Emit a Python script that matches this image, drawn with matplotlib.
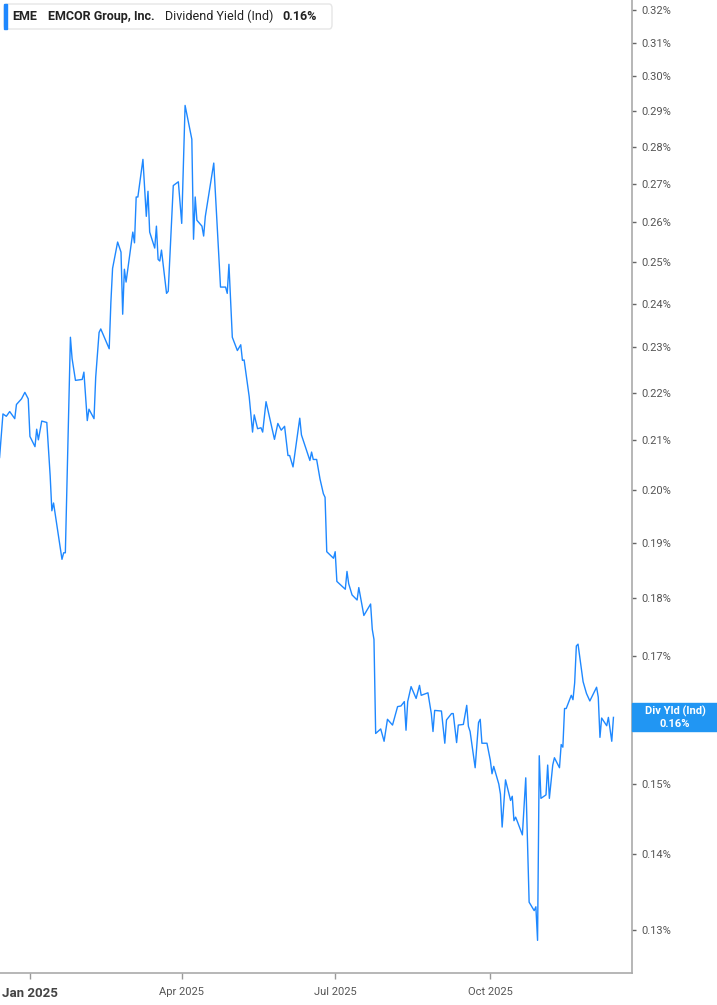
import pandas as pd
import matplotlib
matplotlib.use("Agg")
from matplotlib import pyplot as plt
from matplotlib.patches import FancyBboxPatch, Rectangle
import matplotlib.dates as mdates

plt.rcParams['font.family'] = ['Roboto', 'DejaVu Sans']

W, H = 717, 1005
LINE = '#1e88ff'
GREY = '#666666'

dates = [
    '2024-12-14', '2024-12-16', '2024-12-18', '2024-12-20', '2024-12-23', '2024-12-24',
    '2024-12-27', '2024-12-29', '2024-12-31', '2025-01-01', '2025-01-04', '2025-01-05',
    '2025-01-06', '2025-01-08', '2025-01-11', '2025-01-13', '2025-01-14', '2025-01-15',
    '2025-01-20', '2025-01-21', '2025-01-22', '2025-01-25', '2025-01-26', '2025-01-28',
    '2025-02-01', '2025-02-02', '2025-02-04', '2025-02-05', '2025-02-08', '2025-02-09',
    '2025-02-11', '2025-02-12', '2025-02-17', '2025-02-18', '2025-02-19', '2025-02-22',
    '2025-02-24', '2025-02-25', '2025-02-26', '2025-02-27', '2025-03-03', '2025-03-04',
    '2025-03-05', '2025-03-06', '2025-03-09', '2025-03-11', '2025-03-12', '2025-03-13',
    '2025-03-16', '2025-03-17', '2025-03-18', '2025-03-19', '2025-03-20', '2025-03-23',
    '2025-03-24', '2025-03-27', '2025-03-30', '2025-04-01', '2025-04-03', '2025-04-07',
    '2025-04-08', '2025-04-09', '2025-04-10', '2025-04-13', '2025-04-14', '2025-04-15',
    '2025-04-20', '2025-04-24', '2025-04-27', '2025-04-28', '2025-04-29', '2025-05-01',
    '2025-05-04', '2025-05-06', '2025-05-07', '2025-05-08', '2025-05-11', '2025-05-13',
    '2025-05-14', '2025-05-16', '2025-05-18', '2025-05-19', '2025-05-21', '2025-05-26',
    '2025-05-28', '2025-05-30', '2025-06-01', '2025-06-03', '2025-06-04', '2025-06-06',
    '2025-06-10', '2025-06-11', '2025-06-16', '2025-06-17', '2025-06-18', '2025-06-20',
    '2025-06-22', '2025-06-24', '2025-06-25', '2025-06-26', '2025-06-30', '2025-07-01',
    '2025-07-02', '2025-07-07', '2025-07-08', '2025-07-09', '2025-07-11', '2025-07-14',
    '2025-07-15', '2025-07-18', '2025-07-22', '2025-07-23', '2025-07-24', '2025-07-25',
    '2025-07-28', '2025-07-30', '2025-08-01', '2025-08-04', '2025-08-07', '2025-08-09',
    '2025-08-11', '2025-08-12', '2025-08-13', '2025-08-15', '2025-08-18', '2025-08-20',
    '2025-08-21', '2025-08-25', '2025-08-27', '2025-08-28', '2025-08-29', '2025-09-02',
    '2025-09-04', '2025-09-05', '2025-09-08', '2025-09-09', '2025-09-11', '2025-09-12',
    '2025-09-15', '2025-09-17', '2025-09-18', '2025-09-19', '2025-09-22', '2025-09-24',
    '2025-09-25', '2025-09-26', '2025-09-29', '2025-10-01', '2025-10-02', '2025-10-03',
    '2025-10-06', '2025-10-07', '2025-10-08', '2025-10-10', '2025-10-13', '2025-10-14',
    '2025-10-15', '2025-10-16', '2025-10-17', '2025-10-20', '2025-10-22', '2025-10-24',
    '2025-10-27', '2025-10-28', '2025-10-29', '2025-10-30', '2025-10-31', '2025-11-03',
    '2025-11-04', '2025-11-05', '2025-11-07', '2025-11-08', '2025-11-11', '2025-11-12',
    '2025-11-13', '2025-11-14', '2025-11-15', '2025-11-18', '2025-11-19', '2025-11-20',
    '2025-11-21', '2025-11-22', '2025-11-25', '2025-11-27', '2025-11-29', '2025-12-03',
    '2025-12-04', '2025-12-05', '2025-12-06', '2025-12-09', '2025-12-10', '2025-12-12',
    '2025-12-13',
]
div_yield = [
    0.2065, 0.2155, 0.2150, 0.2160, 0.2145, 0.2175,
    0.2187, 0.2201, 0.2187, 0.2108, 0.2087, 0.2123,
    0.2101, 0.2140, 0.2137, 0.2028, 0.1960, 0.1975,
    0.1869, 0.1881, 0.1881, 0.2323, 0.2275, 0.2227,
    0.2229, 0.2245, 0.2141, 0.2165, 0.2145, 0.2234,
    0.2334, 0.2342, 0.2297, 0.2404, 0.2485, 0.2550,
    0.2525, 0.2376, 0.2483, 0.2452, 0.2575, 0.2548,
    0.2665, 0.2665, 0.2765, 0.2615, 0.2680, 0.2575,
    0.2535, 0.2590, 0.2507, 0.2503, 0.2530, 0.2425,
    0.2430, 0.2695, 0.2705, 0.2597, 0.2915, 0.2820,
    0.2557, 0.2665, 0.2605, 0.2590, 0.2565, 0.2615,
    0.2755, 0.2440, 0.2440, 0.2425, 0.2495, 0.2323,
    0.2293, 0.2306, 0.2271, 0.2272, 0.2192, 0.2117,
    0.2153, 0.2124, 0.2126, 0.2117, 0.2181, 0.2102,
    0.2135, 0.2121, 0.2129, 0.2069, 0.2069, 0.2046,
    0.2146, 0.2111, 0.2059, 0.2076, 0.2061, 0.2061,
    0.2022, 0.1993, 0.1986, 0.1883, 0.1871, 0.1883,
    0.1829, 0.1815, 0.1847, 0.1825, 0.1805, 0.1796,
    0.1818, 0.1769, 0.1789, 0.1745, 0.1728, 0.1576,
    0.1583, 0.1564, 0.1598, 0.1589, 0.1618, 0.1619,
    0.1626, 0.1581, 0.1626, 0.1650, 0.1631, 0.1652,
    0.1636, 0.1640, 0.1607, 0.1579, 0.1612, 0.1611,
    0.1561, 0.1597, 0.1607, 0.1607, 0.1562, 0.1589,
    0.1590, 0.1620, 0.1587, 0.1579, 0.1524, 0.1593,
    0.1598, 0.1561, 0.1561, 0.1535, 0.1515, 0.1526,
    0.1500, 0.1485, 0.1438, 0.1506, 0.1476, 0.1482,
    0.1447, 0.1452, 0.1446, 0.1427, 0.1509, 0.1336,
    0.1325, 0.1330, 0.1287, 0.1542, 0.1479, 0.1484,
    0.1528, 0.1479, 0.1528, 0.1539, 0.1524, 0.1559,
    0.1555, 0.1615, 0.1615, 0.1636, 0.1629, 0.1656,
    0.1717, 0.1720, 0.1658, 0.1639, 0.1627, 0.1649,
    0.1633, 0.1570, 0.1600, 0.1588, 0.1601, 0.1564,
    0.1601,
]

y_ticks = [0.13, 0.14, 0.15, 0.16, 0.17, 0.18, 0.19, 0.20, 0.21, 0.22,
           0.23, 0.24, 0.25, 0.26, 0.27, 0.28, 0.29, 0.30, 0.31, 0.32]
x_ticks = ['2025-01-01', '2025-04-01', '2025-07-01', '2025-10-01']
x_labels = ['Jan 2025', 'Apr 2025', 'Jul 2025', 'Oct 2025']

ticker = 'EME'
company = 'EMCOR Group, Inc.'
metric = 'Dividend Yield (Ind)'
badge_name = 'Div Yld (Ind)'
last_label = '0.16%'

x = pd.to_datetime(dates)

fig = plt.figure(figsize=(W / 100, H / 100), dpi=100)
ax = fig.add_axes([0, 32 / H, 632 / W, 1 - 32 / H])
ax.plot(x, div_yield, color=LINE, lw=1.0)

ax.set_yscale('log')
ax.set_ylim(0.12465, 0.3232)
ax.set_xlim(pd.Timestamp('2024-12-14 06:00'), pd.Timestamp('2025-12-24'))

# the 0.16% tick label sits under the last-value badge, so leave it blank
ax.yaxis.tick_right()
ax.set_yticks(y_ticks)
ax.set_yticklabels(['' if abs(v - 0.16) < 1e-9 else f'{v:.2f}%' for v in y_ticks])
ax.yaxis.set_minor_locator(matplotlib.ticker.NullLocator())
ax.tick_params(axis='y', length=3, width=1, color=GREY, labelcolor='#555555',
               labelsize=8, pad=4)

ax.set_xticks(pd.to_datetime(x_ticks))
ax.set_xticklabels(x_labels)
ax.tick_params(axis='x', length=4, width=1, color='#999999', labelcolor='#555555',
               labelsize=8, pad=6)
for lbl in ax.get_xticklabels():
    if lbl.get_text().startswith('Jan'):
        lbl.set_fontweight('bold')
        lbl.set_fontsize(9.5)
        lbl.set_color('#444444')

for s in ['top', 'left']:
    ax.spines[s].set_visible(False)
for s in ['bottom', 'right']:
    ax.spines[s].set_color('#aaaaaa')
    ax.spines[s].set_linewidth(1.2)

# header box
fig.patches.append(FancyBboxPatch((4 / W, 1 - 29 / H), 328 / W, 25 / H,
                                  boxstyle='round,pad=0,rounding_size=0.004',
                                  transform=fig.transFigure, facecolor='white',
                                  edgecolor='#e6e6e6', lw=1))
fig.patches.append(Rectangle((4 / W, 1 - 29 / H), 3 / W, 25 / H,
                             transform=fig.transFigure, color=LINE))
hy = 1 - 16.5 / H
fig.text(12 / W, hy, ticker, fontsize=9, fontweight='bold', color='#222222', va='center')
fig.text(48 / W, hy, company, fontsize=9, fontweight='bold', color='#222222', va='center')
fig.text(165 / W, hy, metric, fontsize=9, color='#222222', va='center')
fig.text(282 / W, hy, last_label, fontsize=9, fontweight='bold', color='#222222', va='center')

# last value badge
_, py = ax.transData.transform((mdates.date2num(x[-1]), div_yield[-1]))
fy = py / H
bh = 28 / H
fig.patches.append(Rectangle((632 / W, fy - bh / 2), 85 / W, bh,
                             transform=fig.transFigure, color='#2196f3', zorder=5))
fig.text(675 / W, fy + 6 / H, badge_name, fontsize=8, fontweight='bold',
         color='white', ha='center', va='center', zorder=6)
fig.text(675 / W, fy - 7 / H, last_label, fontsize=8, fontweight='bold',
         color='white', ha='center', va='center', zorder=6)

fig.savefig('out.png', dpi=100)
